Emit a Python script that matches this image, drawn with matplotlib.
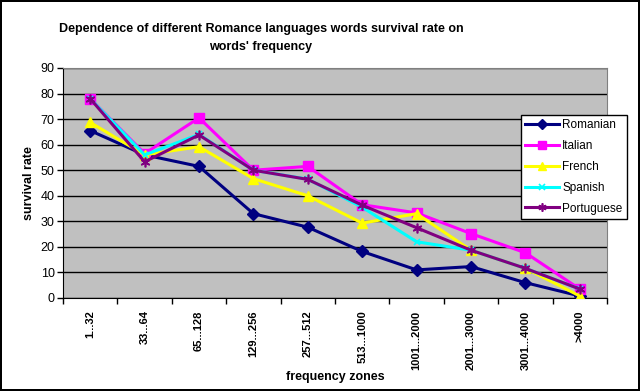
import matplotlib
matplotlib.use("Agg")
import matplotlib.pyplot as plt
import numpy as np

plt.rcParams['font.family'] = ['Liberation Sans', 'DejaVu Sans']

zones = ['1...32', '33...64', '65...128', '129...256', '257...512',
         '513...1000', '1001...2000', '2001...3000', '3001...4000', '>4000']

romanian = [65.5, 56, 51.5, 33, 27.7, 18.2, 11, 12.3, 6, 0.8]
italian = [78, 56.5, 70.5, 50, 51.5, 36.5, 33.3, 25.2, 17.7, 3.5]
french = [68.7, 56, 59.2, 46.7, 40, 29.3, 33, 18.7, 11.6, 0.8]
spanish = [78, 56, 64, 50, 46.5, 35.5, 22, 18.7, 11.6, 3.5]
portuguese = [78, 53.3, 63.8, 50, 46.4, 36.3, 27.5, 18.7, 11.6, 3.5]

series = [
    ('Romanian', romanian, '#000080', 'D', 6),
    ('Italian', italian, '#FF00FF', 's', 7),
    ('French', french, '#FFFF00', '^', 7),
    ('Spanish', spanish, '#00FFFF', 'x', 5),
    ('Portuguese', portuguese, '#800080', (6, 2, 0), 7),
]

W, H = 640, 391
fig = plt.figure(figsize=(W / 100, H / 100), dpi=100)
fig.patch.set_edgecolor('black')
fig.patch.set_linewidth(1.5)

left, right, top, bottom = 63, 607, 68, 298
ax = fig.add_axes([left / W, 1 - bottom / H, (right - left) / W, (bottom - top) / H])
ax.set_facecolor('#C0C0C0')

x = np.arange(len(zones))
for name, vals, col, mk, ms in series:
    ax.plot(x, vals, color=col, marker=mk, markersize=ms, linewidth=2.2,
            markeredgewidth=1.2 if mk in ('x', (6, 2, 0)) else 1,
            markeredgecolor=col, markerfacecolor=col, label=name, zorder=3)

ax.set_xlim(-0.5, len(zones) - 0.5)
ax.set_ylim(0, 90)
ax.set_yticks(np.arange(0, 91, 10))
ax.yaxis.grid(True, color='black', linewidth=1)
ax.set_axisbelow(True)

ax.set_xticks(x)
ax.set_xticklabels(zones, rotation=90, fontsize=8, fontweight='bold')
ax.set_xticks(np.arange(-0.5, len(zones)), minor=True)
ax.tick_params(axis='x', which='major', length=0, pad=9)
ax.tick_params(axis='x', which='minor', length=4, width=1, direction='out')
ax.tick_params(axis='y', length=4, width=1, direction='out', labelsize=9, pad=2)

for s in ('top', 'right'):
    ax.spines[s].set_color('#808080')
ax.spines['left'].set_color('black')
ax.spines['bottom'].set_color('black')

ax.set_xlabel('frequency zones', fontsize=9, fontweight='bold', labelpad=1)
ax.set_ylabel('survival rate', fontsize=9, fontweight='bold', labelpad=4)

fig.text(261 / W, 1 - 38 / H, "Dependence of different Romance languages words survival rate on\nwords' frequency",
         ha='center', va='center', fontsize=9, fontweight='bold', linespacing=1.6)

leg = ax.legend(loc='upper left', bbox_to_anchor=(521 / W, 1 - 115 / H), bbox_transform=fig.transFigure,
                fontsize=8.5, frameon=True, fancybox=False, borderpad=0.35, labelspacing=0.75,
                handlelength=2.9, handletextpad=0.25, borderaxespad=0, markerscale=0.85)
leg.get_frame().set_edgecolor('black')
leg.get_frame().set_linewidth(1)
leg.get_frame().set_facecolor('white')
leg.get_frame().set_alpha(1)

fig.savefig('out.png', dpi=100, edgecolor=fig.get_edgecolor())
